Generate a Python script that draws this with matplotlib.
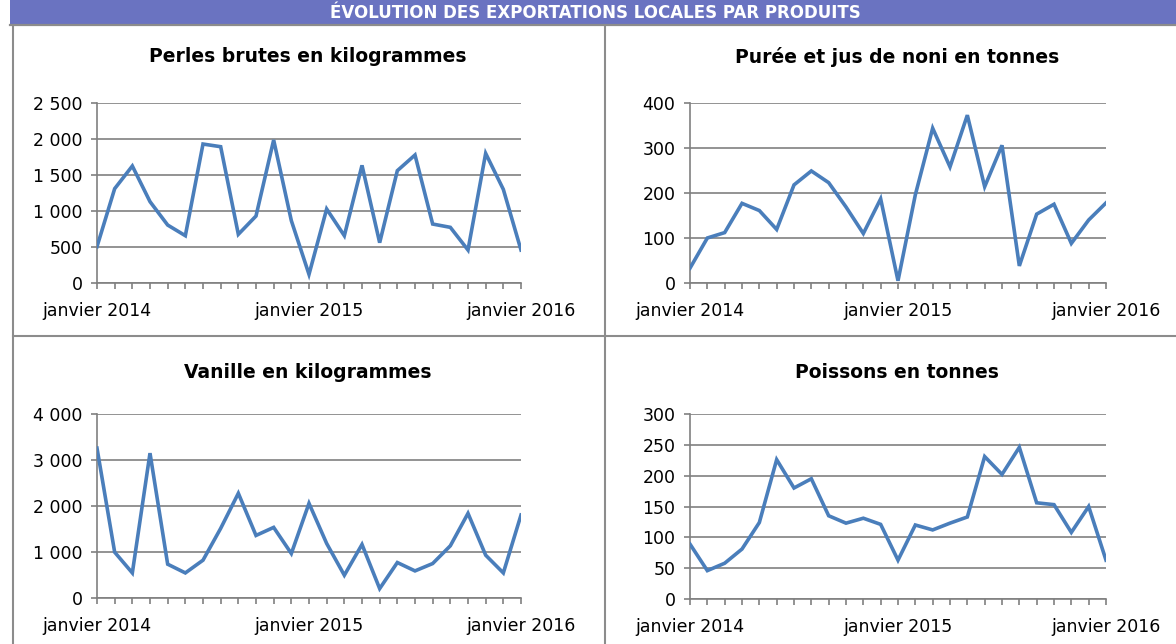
import matplotlib
matplotlib.use('Agg')
import matplotlib.pyplot as plt
from matplotlib.ticker import FuncFormatter, MultipleLocator
from matplotlib.lines import Line2D
from matplotlib.patches import Rectangle

W, H = 1176, 644

# monthly values, janvier 2014 -> janvier 2016 (25 points)
months = list(range(25))
tick_labels = ['janvier 2014', 'janvier 2015', 'janvier 2016']

perles = [505, 1310, 1625, 1130, 805, 657, 1930, 1893, 676, 930, 1986, 866, 120,
          1028, 657, 1634, 560, 1560, 1778, 819, 773, 458, 1800, 1300, 458]
noni = [33, 100, 112, 177, 161, 119, 218, 249, 223, 169, 110, 187, 5,
        196, 344, 258, 373, 214, 306, 38, 153, 175, 88, 140, 178]
vanille = [3258, 996, 545, 3149, 735, 545, 822, 1513, 2276, 1360, 1535, 967, 2058,
           1185, 495, 1164, 204, 771, 589, 749, 1135, 1840, 931, 545, 1804]
poissons = [89, 46, 58, 81, 124, 226, 180, 195, 135, 123, 131, 121, 63,
            120, 112, 123, 133, 231, 202, 246, 156, 153, 108, 150, 63]

titles = ['Perles brutes en kilogrammes', 'Purée et jus de noni en tonnes',
          'Vanille en kilogrammes', 'Poissons en tonnes']
series = [perles, noni, vanille, poissons]
ymax = [2500, 400, 4000, 300]
ystep = [500, 100, 1000, 50]

# panel boxes in pixels: left, right, top, bottom
boxes = [(97, 521, 103, 283), (690, 1106, 103, 283),
         (97, 521, 414, 598), (690, 1106, 414, 599)]
title_pos = [(308, 57), (897, 57), (308, 372), (897, 372)]

grey = '#808080'
blue = '#4A7EBB'

plt.rcParams['font.family'] = ['DejaVu Sans']

fig = plt.figure(figsize=(W / 100, H / 100), dpi=100)


def px(x, y):
    return x / W, 1 - y / H


# header band and panel borders
fig.patches.append(Rectangle(px(10, 24), 1 - 10 / W, 24 / H, transform=fig.transFigure,
                             facecolor='#6A73C1', edgecolor='none', zorder=0))
fig.lines.append(Line2D([10 / W, 1], [1 - 25 / H] * 2, transform=fig.transFigure,
                        color='#8C8C8C', lw=1.6))
fig.text(595 / W, 1 - 18 / H, 'ÉVOLUTION DES EXPORTATIONS LOCALES PAR PRODUITS',
         color='white', fontsize=12, fontweight='bold', ha='center', va='baseline')
border = dict(transform=fig.transFigure, color='#8C8C8C', lw=1.5)
fig.lines.append(Line2D([12.5 / W] * 2, [1 - 26 / H, 0], **border))
fig.lines.append(Line2D([605 / W] * 2, [1 - 26 / H, 0], **border))
fig.lines.append(Line2D([12.5 / W, 1], [1 - 336 / H] * 2, **border))


def fmt(v, pos):
    return '{:,.0f}'.format(v).replace(',', ' ')


for i in range(4):
    l, r, t, b = boxes[i]
    ax = fig.add_axes([l / W, 1 - b / H, (r - l) / W, (b - t) / H])
    ax.plot(months, series[i], color=blue, lw=2.6, solid_joinstyle='miter', zorder=3)
    ax.set_xlim(0, 24)
    ax.set_ylim(0, ymax[i])
    ax.yaxis.set_major_locator(MultipleLocator(ystep[i]))
    ax.yaxis.set_major_formatter(FuncFormatter(fmt))
    ax.set_xticks([0, 12, 24])
    ax.set_xticklabels(tick_labels)
    ax.set_xticks(months, minor=True)
    ax.grid(axis='y', color=grey, lw=1.2)
    ax.set_axisbelow(True)
    for s in ['top', 'right']:
        ax.spines[s].set_visible(False)
    for s in ['left', 'bottom']:
        ax.spines[s].set_color(grey)
        ax.spines[s].set_linewidth(1.2)
    ax.tick_params(axis='both', which='both', direction='out', length=4.5,
                   width=1.2, color=grey, labelsize=12.5, labelcolor='black')
    ax.tick_params(axis='x', which='major', pad=9)
    ax.tick_params(axis='y', pad=6)
    ax.set_facecolor('none')
    fig.text(title_pos[i][0] / W, 1 - title_pos[i][1] / H, titles[i],
             fontsize=13.5, fontweight='bold', ha='center', va='center')

fig.savefig('out.png', dpi=100)
